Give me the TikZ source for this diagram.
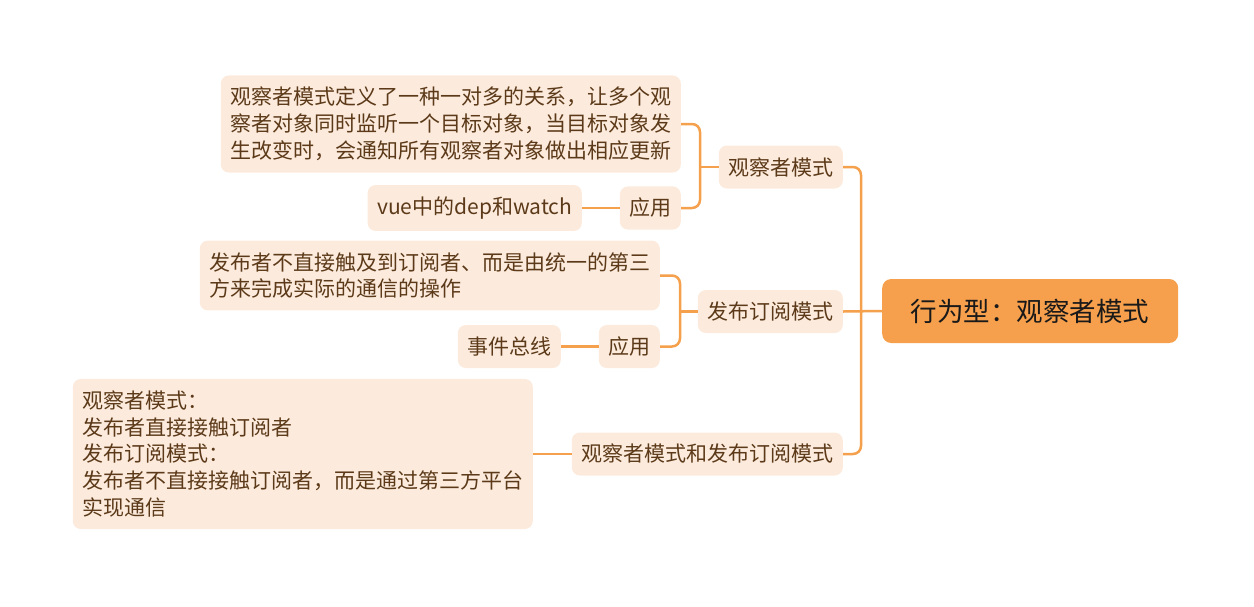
\documentclass[tikz,border=0pt]{standalone}
\usepackage{fontspec}
\setmainfont{Noto Sans CJK SC}
\usepackage{tikz}

\definecolor{linkorange}{RGB}{244,160,76}
\definecolor{rootorange}{RGB}{246,160,77}
\definecolor{leaffill}{RGB}{252,235,221}
\definecolor{leaftext}{RGB}{92,58,25}

\tikzset{
  leaf/.style = {fill = leaffill, text = leaftext, rounded corners = 8pt, inner xsep = 9.5pt, inner ysep = 11.7pt, minimum height = 43pt, font = \fontsize{21pt}{26.8pt}\selectfont},
  block/.style = {leaf, align = left},
  rootbox/.style = {fill = rootorange, text = black!90, rounded corners = 9pt, minimum width = 296pt, minimum height = 64pt, font = \fontsize{26.5pt}{30pt}\selectfont},
  link/.style = {line width = 2.5pt, color = linkorange, rounded corners = 8pt}
}

\begin{document}
\begin{tikzpicture}[x = 1pt, y = -1pt]

\useasboundingbox (0,0) rectangle (1254,606);

% NODES %%%%%%%%%%%%%%%%%%%%%%%%%%%%%%%%%%%%%%%%%%%%%%%%%%%%%%%%%%%%%%%%%%

\node[rootbox, anchor = west] (R) at (882,311) {行为型：观察者模式};

\node[leaf, anchor = east] (P1) at (843,167) {观察者模式};
\node[leaf, anchor = east] (P2) at (843,311.5) {发布订阅模式};
\node[leaf, anchor = east] (P3) at (843,454) {观察者模式和发布订阅模式};

\node[block, anchor = east] (P11) at (681,124) {观察者模式定义了一种一对多的关系，让多个观\\察者对象同时监听一个目标对象，当目标对象发\\生改变时，会通知所有观察者对象做出相应更新};
\node[leaf, anchor = east] (P12) at (681,208) {应用};
\node[leaf, anchor = east] (P121) at (582,208) {vue中的dep和watch};

\node[block, anchor = east] (P21) at (660,275.5) {发布者不直接触及到订阅者、而是由统一的第三\\方来完成实际的通信的操作};
\node[leaf, anchor = east] (P22) at (660,346.5) {应用};
\node[leaf, anchor = east] (P221) at (561,346.5) {事件总线};

\node[block, anchor = east] (P31) at (533,454) {观察者模式：\\发布者直接接触订阅者\\发布订阅模式：\\发布者不直接接触订阅者，而是通过第三方平台\\实现通信};

\coordinate (T) at (861,311);
\coordinate (J1) at (700,167);
\coordinate (J2) at (680,311.5);

% LINKS %%%%%%%%%%%%%%%%%%%%%%%%%%%%%%%%%%%%%%%%%%%%%%%%%%%%%%%%%%%%%%%%%%

\draw[link] (R.west) -- (P2.east);
\draw[link] (P1.east) -| (T) |- (P3.east);

\draw[link] (P1.west) -- (J1);
\draw[link] (P11.east) -| (J1) |- (P12.east);
\draw[link] (P12.west) -- (P121.east);

\draw[link] (P2.west) -- (J2);
\draw[link] (P21.east) -| (J2) |- (P22.east);
\draw[link] (P22.west) -- (P221.east);

\draw[link] (P3.west) -- (P31.east);

\end{tikzpicture}
\end{document}
